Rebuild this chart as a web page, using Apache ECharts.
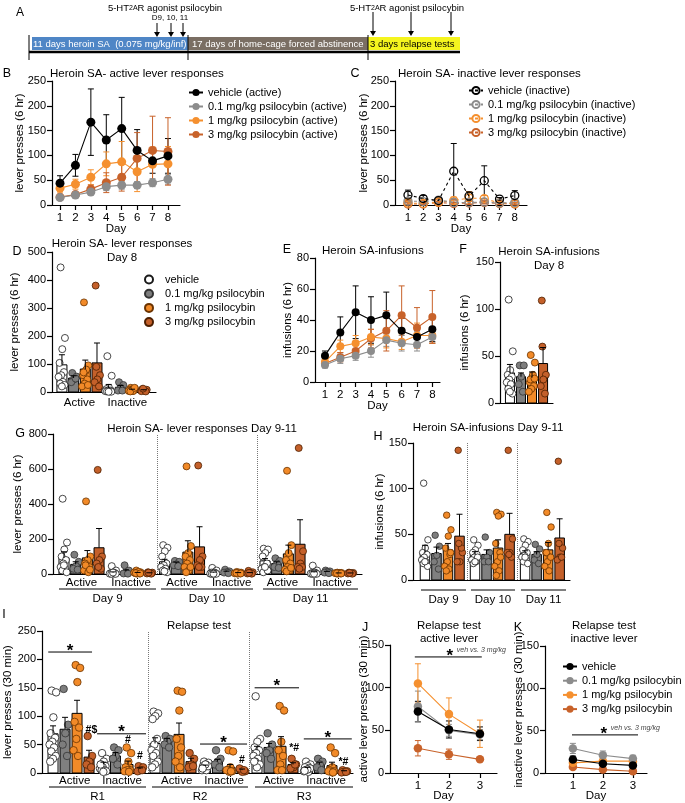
<!DOCTYPE html>
<html><head><meta charset="utf-8">
<script src="https://cdn.jsdelivr.net/npm/echarts@6/dist/echarts.min.js"></script>
<style>html,body{margin:0;padding:0;background:#fff}#c{width:685px;height:803px}</style>
</head><body><div id="c"></div>
<script>
const FONT = '"Liberation Sans", Arial, Helvetica, sans-serif';

// ================= DATA =================
const days8 = [1, 2, 3, 4, 5, 6, 7, 8];
const days3 = [1, 2, 3];
const groupNames = ['vehicle', '0.1 mg/kg psilocybin', '1 mg/kg psilocybin', '3 mg/kg psilocybin'];
const leverLabels = ['Active', 'Inactive'];
const dayLabels = ['Day 9', 'Day 10', 'Day 11'];
const relapseLabels = ['R1', 'R2', 'R3'];

// B: active lever, mean and SEM by day
const bVeh = [44, 80, 167, 131, 154, 110, 89, 99];
const bVehSem = [15, 22, 67, 51, 63, 42, 25, 35];
const bP01 = [15, 20, 26, 37, 40, 40, 45, 52];
const bP01Sem = [4, 5, 5, 8, 8, 7, 8, 10];
const bP1 = [34, 42, 56, 83, 87, 67, 82, 83];
const bP1Sem = [8, 10, 15, 24, 41, 40, 35, 35];
const bP3 = [16, 21, 32, 45, 56, 94, 110, 108];
const bP3Sem = [4, 5, 8, 20, 28, 52, 69, 68];

// C: inactive lever
const cVeh = [20, 13, 9, 68, 18, 49, 12, 19];
const cVehSem = [10, 6, 5, 56, 9, 30, 3, 10];
const cP01 = [8, 7, 10, 5, 5, 6, 4, 5];
const cP01Sem = [3, 3, 5, 3, 3, 3, 2, 3];
const cP1 = [4, 3, 6, 9, 14, 13, 4, 3];
const cP1Sem = [3, 2, 4, 7, 12, 6, 3, 2];
const cP3 = [2, 2, 5, 3, 4, 5, 3, 2];
const cP3Sem = [2, 1, 2, 2, 3, 3, 2, 2];

// D: day 8 lever responses [Active, Inactive]
const dMeanVeh = [97, 14], dSemVeh = [36, 13];
const dMeanP01 = [50, 17], dSemP01 = [8, 6];
const dMeanP1 = [82, 8], dSemP1 = [32, 2];
const dMeanP3 = [104, 6], dSemP3 = [71, 2];
const dPtsVeh = [[445, 193, 153, 104, 71, 60, 54, 36, 30, 25, 20], [128, 58, 15, 10, 5, 5, 3, 2, 2, 1, 1]];
const dPtsP01 = [[68, 55, 45, 35, 48], [35, 25, 15, 5, 5]];
const dPtsP1 = [[320, 95, 75, 60, 45, 30, 20, 80, 70, 25], [15, 12, 10, 8, 6, 5, 4, 3, 2, 15]];
const dPtsP3 = [[380, 60, 45, 35, 20, 90], [10, 8, 5, 3, 2, 12]];

// E: infusions by day
const eVeh = [17, 32, 45, 40, 43, 33, 29, 34];
const eVehSem = [3, 10, 17, 15, 15, 8, 4, 8];
const eP01 = [11, 15, 17, 20, 27, 25, 24, 29];
const eP01Sem = [2, 3, 3, 4, 4, 5, 4, 4];
const eP1 = [13, 23, 25, 29, 28, 26, 30, 30];
const eP1Sem = [3, 4, 5, 5, 6, 5, 8, 5];
const eP3 = [12, 16, 20, 28, 33, 43, 35, 42];
const eP3Sem = [2, 3, 4, 6, 13, 19, 13, 17];

// F: day 8 infusions
const fMean = [32, 28, 27, 42], fSem = [9, 4, 6, 17];
const fPtsVeh = [110, 55, 35, 30, 28, 25, 22, 20, 15, 10, 12];
const fPtsP01 = [40, 40, 28, 20, 12];
const fPtsP1 = [51, 43, 28, 22, 18, 15, 12, 30, 25, 26];
const fPtsP3 = [109, 30, 25, 18, 10, 60];

// G: day 9-11 lever responses [d9 A, d9 I, d10 A, d10 I, d11 A, d11 I]
const gMeanVeh = [92, 8, 70, 8, 75, 9], gSemVeh = [35, 4, 14, 3, 13, 4];
const gMeanP01 = [55, 15, 60, 12, 60, 12], gSemP01 = [15, 9, 8, 4, 10, 3];
const gMeanP1 = [92, 7, 125, 6, 115, 5], gSemP1 = [42, 2, 65, 2, 50, 1];
const gMeanP3 = [150, 5, 155, 6, 170, 5], gSemP3 = [110, 2, 115, 2, 140, 1];
const gPtsVeh = [[430, 180, 140, 100, 80, 60, 40, 30, 20, 10, 50], [45, 20, 10, 5, 5, 3, 2, 2, 1, 1, 8], [165, 150, 130, 100, 60, 50, 40, 30, 20, 10, 15], [35, 20, 10, 8, 5, 3, 2, 2, 1, 1, 2], [145, 140, 120, 100, 60, 40, 30, 20, 10, 20, 40], [48, 20, 10, 5, 5, 3, 2, 2, 1, 1, 2]];
const gPtsP01 = [[110, 70, 45, 30, 25], [50, 20, 5, 3, 2], [75, 70, 55, 50, 45], [25, 15, 10, 8, 5], [90, 75, 60, 40, 35], [20, 15, 12, 8, 5]];
const gPtsP1 = [[415, 100, 80, 60, 40, 30, 20, 10, 50, 25], [20, 10, 5, 5, 3, 2, 8, 12, 5, 3], [615, 160, 120, 100, 80, 60, 40, 20, 10, 40], [12, 8, 5, 5, 3, 2, 4, 8, 6, 3], [590, 165, 120, 80, 60, 40, 25, 20, 15, 35], [8, 6, 5, 4, 3, 2, 5, 6, 4, 3]];
const gPtsP3 = [[595, 100, 80, 60, 30, 40], [10, 8, 5, 3, 2, 8], [620, 100, 80, 50, 40, 40], [18, 10, 5, 3, 2, 6], [720, 130, 60, 40, 40, 30], [8, 6, 5, 3, 2, 6]];

// H: day 9-11 infusions [d9, d10, d11]
const hMeanVeh = [30, 28, 29], hSemVeh = [8, 3, 3];
const hMeanP01 = [29, 28, 28], hSemP01 = [7, 5, 3];
const hMeanP1 = [33, 35, 33], hSemP1 = [7, 9, 8];
const hMeanP3 = [48, 50, 46], hSemP3 = [24, 23, 21];
const hPtsVeh = [[106, 44, 35, 30, 28, 25, 22, 20, 18, 15, 20], [44, 38, 33, 30, 28, 25, 22, 20, 18, 25, 20], [45, 42, 38, 33, 30, 27, 25, 22, 20, 18, 25]];
const hPtsP01 = [[49, 37, 27, 20, 12], [47, 30, 25, 20, 20], [39, 34, 28, 22, 18]];
const hPtsP1 = [[71, 55, 48, 35, 28, 20, 15, 12, 10, 30], [74, 72, 70, 40, 30, 20, 15, 10, 5, 25], [74, 58, 40, 30, 25, 20, 15, 10, 30, 25]];
const hPtsP3 = [[142, 30, 20, 20, 35, 40], [142, 45, 30, 30, 25, 28], [130, 35, 25, 22, 25, 40]];

// I: relapse test [R1 A, R1 I, R2 A, R2 I, R3 A, R3 I]
const iMeanVeh = [69, 15, 52, 12, 40, 8], iSemVeh = [14, 4, 10, 2, 7, 2];
const iMeanP01 = [77, 30, 55, 20, 45, 15], iSemP01 = [21, 6, 6, 4, 7, 4];
const iMeanP1 = [105, 15, 68, 10, 47, 13], iSemP1 = [23, 6, 20, 5, 17, 6];
const iMeanP3 = [28, 7, 20, 5, 15, 3], iSemP3 = [12, 2, 6, 2, 3, 1];
const iPtsVeh = [[145, 142, 98, 70, 62, 55, 50, 45, 38, 30, 25, 20], [35, 25, 20, 15, 12, 10, 8, 5, 5, 3, 2, 15], [108, 105, 100, 95, 60, 50, 40, 35, 30, 20, 15, 10], [20, 18, 15, 12, 10, 8, 5, 5, 10, 12, 15, 8], [135, 60, 55, 45, 40, 35, 30, 25, 20, 15, 10, 20], [20, 15, 12, 10, 8, 5, 3, 2, 5, 8, 6, 4]];
const iPtsP01 = [[148, 85, 70, 50, 30], [45, 40, 30, 25, 15], [65, 60, 55, 50, 45], [40, 25, 20, 15, 10], [70, 50, 40, 35, 25], [25, 20, 15, 10, 5]];
const iPtsP1 = [[190, 185, 160, 90, 80, 60, 40, 30], [45, 35, 20, 10, 5, 5, 3, 2], [145, 143, 110, 60, 45, 30, 20, 10], [40, 38, 10, 5, 3, 2, 5, 3], [118, 110, 55, 40, 30, 15, 5, 5], [45, 35, 10, 5, 3, 2, 3, 1]];
const iPtsP3 = [[65, 30, 20, 15, 10], [12, 10, 5, 3, 5], [35, 25, 15, 10, 12], [5, 3, 2, 8, 5], [25, 15, 10, 8, 15], [5, 3, 2, 1, 2]];
const iSigLines = [[-0.4, 3.25, 213], [3.67, 7.75, 69], [12.25, 16.17, 51], [16.8, 20.5, 150], [20.9, 24.9, 60]];
const iMarkText = ['#$', '#', '#', '#', '*#', '*#'];
const iMarkPos = [[3.2, 76], [6.25, 58], [7.25, 30], [15.75, 23], [20.1, 44], [24.2, 19]];

// J / K: relapse lines
const jVeh = [72, 51, 46], jVehSem = [12, 10, 8];
const jP01 = [78, 50, 45], jP01Sem = [18, 7, 6];
const jP1 = [105, 69, 46], jP1Sem = [23, 19, 16];
const jP3 = [29, 22, 16], jP3Sem = [9, 6, 2];
const kVeh = [16, 11, 9], kVehSem = [4, 3, 3];
const kP01 = [29, 21, 17], kP01Sem = [6, 5, 4];
const kP1 = [12, 14, 14], kP1Sem = [3, 3, 3];
const kP3 = [7, 4, 2], kP3Sem = [2, 2, 1];
const jSig = [0.9, 3.06, 136];
const kSig = [0.97, 3.17, 45];
const sigNote = 'veh vs. 3 mg/kg';

// ================= STYLE / HELPERS =================
const COL = ['#000000', '#8c8c8c', '#f5902f', '#c8622a'];
const BARFILL = ['#ffffff', '#808080', '#f28a28', '#c4602a'];
const PTFILL = ['#ffffff', '#7d7d7d', '#f28a28', '#c4602a'];
const PTSTROKE = ['#1a1a1a', '#333333', '#6b3300', '#4d1f00'];

const grids = [
  { left: 52, top: 81, width: 128, height: 124 },   // 0 B
  { left: 395, top: 81, width: 132, height: 124 },  // 1 C
  { left: 52, top: 252, width: 104, height: 140 },  // 2 D
  { left: 315, top: 258, width: 125, height: 124 }, // 3 E
  { left: 500, top: 262, width: 53, height: 141 },  // 4 F
  { left: 53, top: 434, width: 309, height: 140 },  // 5 G
  { left: 413, top: 443, width: 157, height: 137 }, // 6 H
  { left: 42, top: 631, width: 311, height: 142 },  // 7 I
  { left: 390, top: 645, width: 107, height: 128 }, // 8 J
  { left: 545, top: 646, width: 102, height: 127 }  // 9 K
];

function axisBase(gi) {
  return {
    gridIndex: gi,
    axisLine: { show: true, onZero: false, lineStyle: { color: '#000', width: 1.2 } },
    splitLine: { show: false },
    axisLabel: { color: '#000', fontSize: 11, fontFamily: FONT },
    nameMoveOverlap: false,
    nameTextStyle: { color: '#000', fontSize: 11.5, fontFamily: FONT }
  };
}
function yAxisOf(gi, max, interval, name, gap) {
  const a = axisBase(gi);
  a.axisLabel.margin = 6;
  return Object.assign(a, {
    type: 'value', min: 0, max, interval, name, nameLocation: 'middle', nameGap: gap,
    axisTick: { show: true, length: 5, lineStyle: { color: '#000', width: 1.2 } }
  });
}
function xDayAxis(gi, min, max, ticks, gap) {
  const a = axisBase(gi);
  a.axisLabel.margin = 7;
  a.axisLabel.customValues = ticks;
  a.axisLabel.fontSize = 11.5;
  return Object.assign(a, {
    type: 'value', min, max, name: 'Day', nameLocation: 'middle', nameGap: gap,
    axisTick: { show: true, length: 5, customValues: ticks, lineStyle: { color: '#000', width: 1.2 } }
  });
}
function xCatAxis(gi, min, max, vals, labels, margin) {
  const a = axisBase(gi);
  a.axisLabel.show = vals.length > 0;
  a.axisLabel.margin = margin;
  a.axisLabel.fontSize = 11.5;
  if (vals.length) {
    a.axisLabel.customValues = vals;
    a.axisLabel.formatter = v => {
      let best = 0;
      vals.forEach((c, i) => { if (Math.abs(c - v) < Math.abs(vals[best] - v)) best = i; });
      return labels[best];
    };
  }
  return Object.assign(a, { type: 'value', min, max, axisTick: { show: false } });
}

function errRender(color, both, cap) {
  return (params, api) => {
    const x = api.value(0), m = api.value(1), e = api.value(2);
    const top = api.coord([x, m + e]);
    const bot = api.coord([x, both ? Math.max(0, m - e) : m]);
    const st = { stroke: color, lineWidth: 1 };
    const ch = [
      { type: 'line', shape: { x1: top[0], y1: top[1], x2: bot[0], y2: bot[1] }, style: st },
      { type: 'line', shape: { x1: top[0] - cap, y1: top[1], x2: top[0] + cap, y2: top[1] }, style: st }
    ];
    if (both) ch.push({ type: 'line', shape: { x1: bot[0] - cap, y1: bot[1], x2: bot[0] + cap, y2: bot[1] }, style: st });
    return { type: 'group', children: ch };
  };
}

function linePanel(gi, xs, means, sems, names, dashed, size) {
  const out = [];
  means.forEach((m, t) => {
    out.push({
      type: 'custom', xAxisIndex: gi, yAxisIndex: gi, silent: true, z: 2,
      data: xs.map((x, i) => [x, m[i], sems[t][i]]),
      renderItem: errRender(COL[t], true, 3)
    });
    out.push({
      type: 'line', name: names ? names[t] : undefined, xAxisIndex: gi, yAxisIndex: gi,
      data: xs.map((x, i) => [x, m[i]]), symbol: 'circle', symbolSize: size, silent: true,
      lineStyle: { color: COL[t], width: 1.1, type: dashed ? [3, 3] : 'solid' },
      itemStyle: dashed ? { color: 'rgba(255,255,255,0)', borderColor: COL[t], borderWidth: 1.3 } : { color: COL[t] },
      z: 6 - t
    });
  });
  return out;
}

function jit(i, spread) { return (((i * 0.618034 + 0.31) % 1) - 0.5) * spread; }

function barPanel(gi, slotFn, means, sems, pts, opt) {
  const out = [];
  const bars = [];
  means.forEach((mArr, t) => mArr.forEach((m, s) => bars.push([slotFn(s, t), m, sems[t][s], t, s])));
  out.push({
    type: 'custom', xAxisIndex: gi, yAxisIndex: gi, silent: true, z: 1, data: bars,
    renderItem: (p, api) => {
      const x = api.value(0), m = api.value(1), t = api.value(3), s = api.value(4);
      const a = api.coord([x, 0]), b = api.coord([x, m]);
      return { type: 'rect', shape: { x: a[0] - opt.bw / 2, y: b[1], width: opt.bw, height: a[1] - b[1] },
        style: { fill: opt.fill(t, s), stroke: '#000', lineWidth: 1 } };
    }
  });
  pts.forEach((pArr, t) => {
    const data = [];
    pArr.forEach((vals, s) => vals.forEach((v, i) => data.push([slotFn(s, t) + jit(i, opt.spread), v])));
    const ser = {
      type: 'scatter', name: opt.names ? opt.names[t] : 'pts' + gi + '_' + t, xAxisIndex: gi, yAxisIndex: gi, data,
      symbolSize: opt.ps, silent: true, z: 3,
      itemStyle: { color: PTFILL[t], borderColor: PTSTROKE[t], borderWidth: 0.8, opacity: 1 }
    };
    if (t === 0 && opt.dividers) {
      ser.markLine = { silent: true, symbol: ['none', 'none'], label: { show: false },
        lineStyle: { type: 'dotted', color: '#777', width: 1 }, data: opt.dividers.map(x => ({ xAxis: x })) };
    }
    out.push(ser);
  });
  out.push({
    type: 'custom', xAxisIndex: gi, yAxisIndex: gi, silent: true, z: 4,
    data: bars.map(b => [b[0], b[1], b[2]]), renderItem: errRender('#000', false, 3)
  });
  return out;
}

function sigSeries(gi, lines, starSize) {
  return {
    type: 'custom', xAxisIndex: gi, yAxisIndex: gi, silent: true, z: 5, data: lines,
    renderItem: (p, api) => {
      const a = api.coord([api.value(0), api.value(2)]), b = api.coord([api.value(1), api.value(2)]);
      return { type: 'group', children: [
        { type: 'line', shape: { x1: a[0], y1: a[1], x2: b[0], y2: a[1] }, style: { stroke: '#000', lineWidth: 1 } },
        { type: 'text', x: (a[0] + b[0]) / 2, y: a[1] - 1, style: { text: '*', fontSize: starSize, fontWeight: 'bold', fontFamily: FONT, fill: '#000', align: 'center', verticalAlign: 'middle' } }
      ] };
    }
  };
}

// slot layouts
const gInSlots = [0, 1, 2, 3, 4.2, 5.3, 6.3, 7.3];
const iInSlots = [0, 1, 2, 3, 4.2, 5.2, 6.25, 7.25];
const slotD = (s, t) => s * 4 + t;
const slotF = (s, t) => t;
const slotG = (s, t) => Math.floor(s / 2) * 8.6 + gInSlots[(s % 2) * 4 + t];
const slotH = (s, t) => s * 4.35 + t;
const slotI = (s, t) => Math.floor(s / 2) * 8.5 + iInSlots[(s % 2) * 4 + t];
const blackInactiveVeh = (t, s) => (t === 0 && s % 2 === 1) ? '#000' : BARFILL[t];
const plainFill = (t, s) => BARFILL[t];

// ================= SERIES =================
const bNames = groupNames.map(n => n + ' (active)');
const cNames = groupNames.map(n => n + ' (inactive)');
const kNames = groupNames.map(n => 'K ' + n);

let series = [];
series = series.concat(linePanel(0, days8, [bVeh, bP01, bP1, bP3], [bVehSem, bP01Sem, bP1Sem, bP3Sem], bNames, false, 9));
series = series.concat(linePanel(1, days8, [cVeh, cP01, cP1, cP3], [cVehSem, cP01Sem, cP1Sem, cP3Sem], cNames, true, 8));
series = series.concat(barPanel(2, slotD, [dMeanVeh, dMeanP01, dMeanP1, dMeanP3], [dSemVeh, dSemP01, dSemP1, dSemP3],
  [dPtsVeh, dPtsP01, dPtsP1, dPtsP3], { bw: 10, ps: 7, spread: 0.6, fill: blackInactiveVeh, names: groupNames }));
series = series.concat(linePanel(3, days8, [eVeh, eP01, eP1, eP3], [eVehSem, eP01Sem, eP1Sem, eP3Sem], null, false, 8));
series = series.concat(barPanel(4, slotF, fMean.map(v => [v]), fSem.map(v => [v]),
  [[fPtsVeh], [fPtsP01], [fPtsP1], [fPtsP3]], { bw: 9, ps: 7, spread: 0.6, fill: plainFill }));
series = series.concat(barPanel(5, slotG, [gMeanVeh, gMeanP01, gMeanP1, gMeanP3], [gSemVeh, gSemP01, gSemP1, gSemP3],
  [gPtsVeh, gPtsP01, gPtsP1, gPtsP3], { bw: 10, ps: 7, spread: 0.6, fill: blackInactiveVeh, dividers: [7.96, 16.51] }));
series = series.concat(barPanel(6, slotH, [hMeanVeh, hMeanP01, hMeanP1, hMeanP3], [hSemVeh, hSemP01, hSemP1, hSemP3],
  [hPtsVeh, hPtsP01, hPtsP1, hPtsP3], { bw: 9.5, ps: 6.5, spread: 0.6, fill: plainFill, dividers: [3.65, 8.0] }));
series = series.concat(barPanel(7, slotI, [iMeanVeh, iMeanP01, iMeanP1, iMeanP3], [iSemVeh, iSemP01, iSemP1, iSemP3],
  [iPtsVeh, iPtsP01, iPtsP1, iPtsP3], { bw: 10, ps: 7.5, spread: 0.6, fill: plainFill, dividers: [7.91, 16.33] }));
series.push(sigSeries(7, iSigLines, 17));
series.push({
  type: 'custom', xAxisIndex: 7, yAxisIndex: 7, silent: true, z: 5, data: iMarkPos,
  renderItem: (p, api) => {
    const c = api.coord([api.value(0), api.value(1)]);
    const txt = iMarkText[p.dataIndex];
    return { type: 'text', x: c[0], y: c[1], style: { text: txt, fontSize: 10.5, fontWeight: 'bold', fontFamily: FONT, fill: '#000', align: 'center', verticalAlign: 'middle' } };
  }
});
series = series.concat(linePanel(8, days3, [jVeh, jP01, jP1, jP3], [jVehSem, jP01Sem, jP1Sem, jP3Sem], null, false, 8.5));
series = series.concat(linePanel(9, days3, [kVeh, kP01, kP1, kP3], [kVehSem, kP01Sem, kP1Sem, kP3Sem], kNames, false, 8.5));
function noteSeries(gi, sig, starSize) {
  const s = sigSeries(gi, [sig], starSize);
  const base = s.renderItem;
  s.renderItem = (p, api) => {
    const g = base(p, api);
    const a = api.coord([2.03, api.value(2)]);
    g.children[1].x = a[0];
    g.children.push({ type: 'text', x: a[0] + 7, y: a[1] - 7, style: { text: sigNote, fontSize: 7, fontStyle: 'italic', fontFamily: FONT, fill: '#444', align: 'left', verticalAlign: 'middle' } });
    return g;
  };
  return s;
}
series.push(noteSeries(8, jSig, 17));
series.push(noteSeries(9, kSig, 17));

// ================= AXES =================
const xAxes = [
  xDayAxis(0, 0.48, 8.78, days8, 18),
  xDayAxis(1, 0.15, 8.8, days8, 18),
  xCatAxis(2, -0.85, 8.05, [1.5, 5.6], leverLabels, 5),
  xDayAxis(3, 0.35, 8.5, days8, 18),
  xCatAxis(4, -0.9, 3.9, [], [], 5),
  xCatAxis(5, -0.94, 25.5, [1.5, 5.75, 10.1, 14.35, 18.7, 22.95], [0, 1, 0, 1, 0, 1].map(i => leverLabels[i]), 3),
  xCatAxis(6, -1.04, 12.6, [], [], 5),
  xCatAxis(7, -0.92, 25.0, [1.8, 5.75, 10.3, 14.25, 18.8, 22.75], [0, 1, 0, 1, 0, 1].map(i => leverLabels[i]), 2),
  xDayAxis(8, 0.1, 3.55, days3, 17),
  xDayAxis(9, 0.07, 3.47, days3, 17)
];
const yAxes = [
  yAxisOf(0, 250, 50, 'lever presses (6 hr)', 26),
  yAxisOf(1, 250, 50, 'lever presses (6 hr)', 25),
  yAxisOf(2, 500, 100, 'lever presses (6 hr)', 31),
  yAxisOf(3, 80, 20, 'infusions (6 hr)', 21),
  yAxisOf(4, 150, 50, 'infusions (6 hr)', 29),
  yAxisOf(5, 800, 200, 'lever presses (6 hr)', 29),
  yAxisOf(6, 150, 50, 'infusions (6 hr)', 27),
  yAxisOf(7, 250, 50, 'lever presses (30 min)', 28),
  yAxisOf(8, 150, 50, 'active lever presses (30 min)', 20),
  yAxisOf(9, 150, 50, 'inactive lever presses (30 min)', 20)
];

// ================= LEGENDS =================
const legTS = { fontSize: 11, fontFamily: FONT, color: '#000' };
const legends = [
  { left: 183, top: 82, orient: 'vertical', itemWidth: 14, itemHeight: 9, itemGap: 3, selectedMode: false, data: bNames, textStyle: legTS },
  { left: 463, top: 80, orient: 'vertical', itemWidth: 14, itemHeight: 9, itemGap: 3, selectedMode: false, data: cNames, textStyle: legTS },
  { left: 139, top: 269, orient: 'vertical', itemWidth: 10, itemHeight: 8, itemGap: 3.2, selectedMode: false, data: groupNames, textStyle: Object.assign({ padding: [0, 0, 0, 6] }, legTS) },
  { left: 557, top: 656, orient: 'vertical', itemWidth: 14, itemHeight: 9, itemGap: 3.2, selectedMode: false, data: kNames, formatter: n => n.slice(2), textStyle: legTS }
];

// ================= GRAPHICS (labels, timeline) =================
const gfx = [];
function txt(x, y, text, size, extra) {
  gfx.push({ type: 'text', x, y, silent: true, style: Object.assign({ text, fontSize: size, fontFamily: FONT, fill: '#000', align: 'center', verticalAlign: 'middle' }, extra || {}) });
}
function ln(x1, y1, x2, y2, w, color) {
  gfx.push({ type: 'line', silent: true, shape: { x1, y1, x2, y2 }, style: { stroke: color || '#000', lineWidth: w || 1 } });
}
function rect(x, y, w, h, fill) {
  gfx.push({ type: 'rect', silent: true, shape: { x, y, width: w, height: h }, style: { fill } });
}
function arrow(x, y1, y2) {
  ln(x, y1, x, y2 - 4, 1);
  gfx.push({ type: 'polygon', silent: true, shape: { points: [[x - 3, y2 - 5], [x + 3, y2 - 5], [x, y2]] }, style: { fill: '#000' } });
}
// Panel A timeline
txt(20, 13, 'A', 12);
const richTitle = { text: '{a|5-HT}{s|2A}{a|R agonist psilocybin}', rich: { a: { fontSize: 9.5, fontFamily: FONT, fill: '#000' }, s: { fontSize: 7, fontFamily: FONT, fill: '#000' } } };
gfx.push({ type: 'text', x: 165, y: 8, silent: true, style: Object.assign({ align: 'center', verticalAlign: 'middle' }, richTitle) });
gfx.push({ type: 'text', x: 407, y: 8, silent: true, style: Object.assign({ align: 'center', verticalAlign: 'middle' }, richTitle) });
txt(170, 18, 'D9, 10, 11', 8);
arrow(157, 23, 37); arrow(171, 23, 37); arrow(183, 23, 37);
arrow(373, 12, 36); arrow(411, 12, 36); arrow(451, 12, 36);
rect(32, 37, 156, 13, '#4f86c6');
rect(188, 37, 180, 13, '#7a6e63');
rect(368, 37, 92, 13, '#f5f51e');
txt(33, 44, '11 days heroin SA  (0.075 mg/kg/inf)', 9.5, { align: 'left', fill: '#fff' });
txt(192, 44, '17 days of home-cage forced abstinence', 9.5, { align: 'left', fill: '#fff' });
txt(370, 44, '3 days relapse tests', 9.5, { align: 'left', fill: '#000' });
ln(29, 52, 460, 52, 2.5);
ln(29, 35, 29, 60, 1); ln(188, 35, 188, 60, 1); ln(368, 35, 368, 60, 1);

// panel letters
[['B', 7, 74], ['C', 355, 74], ['D', 17, 252], ['E', 287, 250], ['F', 463, 250], ['G', 20, 434], ['H', 378, 437], ['I', 4, 615], ['J', 365, 628], ['K', 518, 628]]
  .forEach(a => txt(a[1], a[2], a[0], 12.5));

// titles
const T = 11.5;
txt(50, 74, 'Heroin SA- active lever responses', T, { align: 'left' });
txt(398, 74, 'Heroin SA- inactive lever responses', T, { align: 'left' });
txt(122, 244, 'Heroin SA- lever responses', T);
txt(122, 258, 'Day 8', T);
txt(322, 251, 'Heroin SA-infusions', T, { align: 'left' });
txt(549, 252, 'Heroin SA-infusions', T);
txt(549, 266, 'Day 8', T);
txt(202, 429, 'Heroin SA- lever responses Day 9-11', T);
txt(488, 428, 'Heroin SA-infusions Day 9-11', T);
txt(199, 626, 'Relapse test', T);
txt(449, 626, 'Relapse test', T);
txt(449, 639, 'active lever', T);
txt(604, 626, 'Relapse test', T);
txt(604, 639, 'inactive lever', T);

// group underlines and labels
[[59, 156], [161, 253], [263, 358]].forEach((s, i) => { ln(s[0], 589, s[1], 589, 1); txt((s[0] + s[1]) / 2, 599, dayLabels[i], T); });
[[421, 466], [471, 515], [521, 566]].forEach((s, i) => { ln(s[0], 590, s[1], 590, 1); txt((s[0] + s[1]) / 2, 600, dayLabels[i], T); });
[[49, 146], [152, 248], [255, 353]].forEach((s, i) => { ln(s[0], 787, s[1], 787, 1); txt((s[0] + s[1]) / 2, 797, relapseLabels[i], T); });

const option = {
  animation: false,
  backgroundColor: '#ffffff',
  textStyle: { fontFamily: FONT },
  grid: grids,
  xAxis: xAxes,
  yAxis: yAxes,
  legend: legends,
  series,
  graphic: { elements: gfx }
};
const chart = echarts.init(document.getElementById('c'), null, { renderer: 'canvas' });
chart.setOption(option);
</script>
</body></html>
